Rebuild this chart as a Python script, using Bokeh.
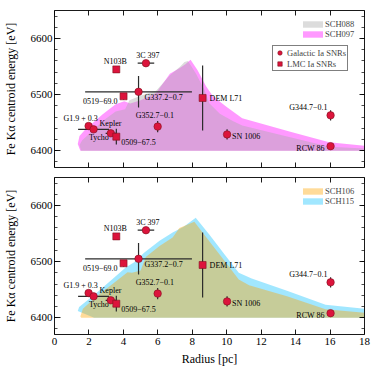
import numpy as np
from bokeh.plotting import figure
from bokeh.models import (Range1d, SingleIntervalTicker, LinearAxis, Legend,
                          LegendItem, ColumnDataSource, CustomLabelingPolicy)
from bokeh.layouts import column
from bokeh.embed import file_html
from bokeh.resources import INLINE
from bokeh.core.properties import value

FONT = "Liberation Serif"

# ---------------- model bands (upper envelope + base) ----------------
sch097_r = [1.35, 1.45, 1.8, 2.8, 3.55, 4.05, 4.4, 5.0, 5.9, 6.7, 7.3, 7.6, 7.9,
            8.3, 8.8, 9.2, 10.0, 10.9, 13.8, 15.95, 18.0]
sch097_e = [6412, 6426, 6438, 6465, 6483, 6488, 6484, 6490, 6503, 6537, 6548, 6554, 6562,
            6544, 6515, 6497, 6478, 6458, 6433, 6415, 6409]
sch097_base_r = [18.0, 1.5]
sch097_base_e = [6400, 6400]

sch088_r = [1.45, 1.6, 2.8, 3.55, 4.1, 4.35, 5.0, 5.9, 6.7, 7.3, 7.55, 7.75,
            8.2, 8.7, 9.0, 9.6, 10.35, 10.9, 13.8, 15.95, 18.0]
sch088_e = [6410, 6418, 6453, 6470, 6474, 6490, 6498, 6507, 6534, 6550, 6558, 6560,
            6538, 6509, 6484, 6466, 6453, 6445, 6423, 6407, 6404]
sch088_base_r = [18.0, 1.55]
sch088_base_e = [6400, 6400]

sch115_r = [1.35, 1.43, 2.4, 3.37, 4.15, 4.63, 5.2, 6.1, 6.86, 7.5, 8.2, 9.0, 9.9,
            10.7, 11.45, 13.5, 15.74, 18.0]
sch115_e = [6412, 6419, 6443, 6469, 6490, 6499, 6516, 6537, 6552, 6562, 6578, 6548, 6512,
            6480, 6470, 6448, 6423, 6416]
sch115_base_r = [18.0, 2.3]
sch115_base_e = [6400, 6400]

sch106_r = [1.5, 1.65, 2.4, 3.37, 4.24, 4.5, 5.0, 5.3, 6.1, 6.86, 7.25, 8.12, 9.0, 9.9,
            10.7, 11.3, 13.5, 15.74, 18.0]
sch106_e = [6402, 6416, 6437, 6460, 6481, 6480, 6484, 6508, 6528, 6543, 6560, 6571, 6536,
            6500, 6468, 6458, 6438, 6415, 6409]
sch106_base_r = [18.0, 1.55]
sch106_base_e = [6400, 6400]

# ---------------- observed SNRs ----------------
gal_names = ["3C 397", "G337.2\u22120.7", "G1.9 + 0.3", "Kepler", "Tycho",
             "G352.7\u22120.1", "SN 1006", "G344.7\u22120.1", "RCW 86"]
gal_r = [5.31, 4.88, 1.98, 2.27, 3.27, 5.99, 10.02, 16.03, 16.03]
gal_e = [6556, 6505, 6444, 6438, 6431, 6443, 6429, 6463, 6408]
gal_rerr = [0.48, 3.1, 0.0, 0.9, 0.3, 0.0, 0.0, 0.0, 0.0]
gal_eerr = [0, 28, 0, 0, 0, 10, 9, 9, 4]

lmc_names = ["N103B", "0519\u221269.0", "0509\u221267.5", "DEM L71"]
lmc_r = [3.59, 4.01, 3.59, 8.6]
lmc_e = [6545, 6497, 6425, 6494]
lmc_rerr = [0.0, 0.0, 0.0, 0.0]
lmc_eerr = [0, 6, 14, 58]

# label placement (screen px offsets, alignment) -- layout only
gal_lab = [(2, -8, "center"), (6, 6, "left"), (-8, -8, "center"), (6, -6, "left"),
           (-2, 4, "right"), (-22, -11, "left"), (5, 2, "left"), (-3, -8, "right"),
           (-6, 2, "right")]
lmc_lab = [(-1, -8, "center"), (-6, 5, "right"), (5, 5, "left"), (7, 1, "left")]

HIDE = "for (let i = 0; i < indices.size; i++) { indices.unset(i) }\nreturn indices"


def style_axis(ax, labels=True, minor=True, tick_in=5):
    ax.axis_line_color = "black"
    ax.axis_line_width = 0.9
    ax.major_tick_in = tick_in
    ax.major_tick_out = 0
    ax.major_tick_line_width = 0.9
    ax.minor_tick_in = 3
    ax.minor_tick_out = 0
    ax.minor_tick_line_width = 0.7
    if not minor:
        ax.minor_tick_line_color = None
    ax.major_label_text_font = FONT
    ax.major_label_text_color = "black"
    ax.major_label_text_font_size = "11px"
    ax.major_label_standoff = 3
    if not labels:
        ax.major_label_text_font_size = "1px"
        ax.major_label_standoff = 0
        ax.major_label_policy = CustomLabelingPolicy(code=HIDE)
    ax.axis_label_text_font = FONT
    ax.axis_label_text_font_style = "normal"
    ax.axis_label_text_font_size = "12px"
    ax.axis_label_text_color = "black"


def panel(models, marker_legend, xlabels):
    p = figure(frame_width=310, frame_height=157,
               x_range=Range1d(0, 18), y_range=Range1d(6370, 6650),
               output_backend="svg", toolbar_location=None,
               min_border_left=52, min_border_right=10,
               min_border_top=5 if xlabels else 10,
               min_border_bottom=36 if xlabels else 5)
    p.outline_line_color = None
    p.grid.visible = False

    rend = {}
    for name, r, e, br, be, color, alpha in models:
        rend[name] = p.patch(list(r) + list(br), list(e) + list(be),
                             fill_color=color, fill_alpha=alpha, line_color=None)

    # error bars
    er = "#2b2b2b"
    for rr, ee, rerr, eerr in ((gal_r, gal_e, gal_rerr, gal_eerr),
                               (lmc_r, lmc_e, lmc_rerr, lmc_eerr)):
        rr = np.array(rr); ee = np.array(ee)
        rerr = np.array(rerr); eerr = np.array(eerr)
        m = rerr > 0
        p.segment(x0=rr[m] - rerr[m], x1=rr[m] + rerr[m], y0=ee[m], y1=ee[m],
                  line_color=er, line_width=1.2)
        m = eerr > 0
        p.segment(x0=rr[m], x1=rr[m], y0=ee[m] - eerr[m], y1=ee[m] + eerr[m],
                  line_color=er, line_width=1.2)

    gal = p.scatter(gal_r, gal_e, marker="circle", size=7.5, fill_color="#dc143c",
                    line_color="#80101f", line_width=0.6)
    lmc = p.scatter(lmc_r, lmc_e, marker="square", size=7, fill_color="#dc143c",
                    line_color="#80101f", line_width=0.6)

    # labels
    for names, rr, ee, lab in ((gal_names, gal_r, gal_e, gal_lab),
                               (lmc_names, lmc_r, lmc_e, lmc_lab)):
        for align in ("left", "right", "center"):
            idx = [i for i, l in enumerate(lab) if l[2] == align]
            if not idx:
                continue
            src = ColumnDataSource(dict(
                x=[rr[i] for i in idx], y=[ee[i] for i in idx],
                t=[names[i] for i in idx],
                dx=[lab[i][0] for i in idx], dy=[lab[i][1] for i in idx]))
            p.text(x="x", y="y", text="t", x_offset="dx", y_offset="dy", source=src,
                   text_align=align, text_baseline="middle",
                   text_font=value(FONT), text_font_size="8px", text_color="black")

    # axes
    p.yaxis.ticker = SingleIntervalTicker(interval=100, num_minor_ticks=5)
    p.xaxis.ticker = SingleIntervalTicker(interval=2, num_minor_ticks=0)
    style_axis(p.yaxis[0], tick_in=6)
    p.yaxis.axis_label = "Fe K\u03b1 centroid energy [eV]"
    p.yaxis.axis_label_standoff = 10
    p.yaxis.major_label_standoff = 2
    style_axis(p.xaxis[0], labels=xlabels, minor=False)
    if xlabels:
        p.xaxis.axis_label = "Radius [pc]"
        p.xaxis.axis_label_standoff = 4
    ra = LinearAxis(ticker=SingleIntervalTicker(interval=100, num_minor_ticks=5))
    style_axis(ra, labels=False, tick_in=5)
    p.add_layout(ra, "right")
    ta = LinearAxis(ticker=SingleIntervalTicker(interval=2, num_minor_ticks=0))
    style_axis(ta, labels=False, minor=False)
    p.add_layout(ta, "above")

    # legends (location = bottom-left of legend box, frame px from bottom-left)
    names = [m[0] for m in models]
    leg1 = Legend(items=[LegendItem(label=n, renderers=[rend[n]]) for n in sorted(names)],
                  location=(246, 128), padding=0, margin=0, spacing=0,
                  glyph_width=25, glyph_height=8, label_height=10,
                  label_standoff=0, border_line_color=None,
                  background_fill_alpha=0, label_text_font=FONT,
                  label_text_font_size="8.5px")
    p.add_layout(leg1)
    if marker_legend:
        leg2 = Legend(items=[LegendItem(label="Galactic Ia SNRs", renderers=[gal]),
                             LegendItem(label="LMC Ia SNRs", renderers=[lmc])],
                      location=(218, 96), padding=1, margin=0, spacing=0,
                      glyph_width=11, glyph_height=11, label_height=10,
                      label_standoff=2, border_line_color="black",
                      border_line_width=0.8, background_fill_color="white",
                      background_fill_alpha=1, label_text_font=FONT,
                      label_text_font_size="8.5px")
        p.add_layout(leg2)
    return p


top_models = [
    ("SCH097", sch097_r, sch097_e, sch097_base_r, sch097_base_e, "#ff00ff", 0.4),
    ("SCH088", sch088_r, sch088_e, sch088_base_r, sch088_base_e, "#aaaaaa", 0.41),
]
bot_models = [
    ("SCH115", sch115_r, sch115_e, sch115_base_r, sch115_base_e, "#00bfff", 0.37),
    ("SCH106", sch106_r, sch106_e, sch106_base_r, sch106_base_e, "#ffa500", 0.4),
]

p1 = panel(top_models, True, False)
p2 = panel(bot_models, False, True)
lay = column(p1, p2, spacing=0)
open("out.html", "w").write(file_html(lay, INLINE))
